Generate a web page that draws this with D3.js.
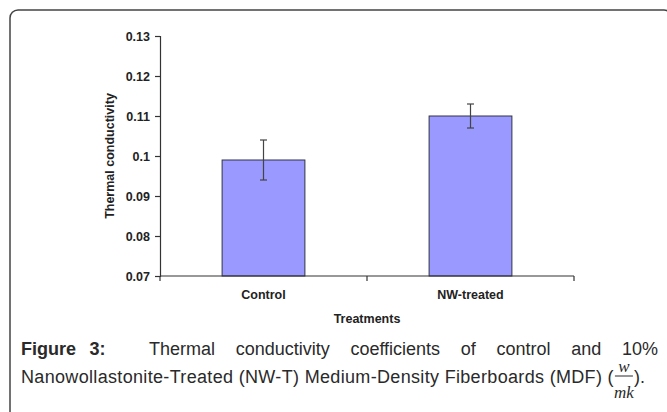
<!DOCTYPE html>
<html>
<head>
<meta charset="utf-8">
<script src="https://cdn.jsdelivr.net/npm/d3@7"></script>
<style>
  html, body { margin: 0; padding: 0; background: #fff; }
  svg { display: block; }
</style>
</head>
<body>
<svg id="chart" width="667" height="412"></svg>
<script>
// ---- data ----
const categories = ["Control", "NW-treated"];
const values = [0.099, 0.110];
const errors = [0.005, 0.003];
const yTicks = [0.07, 0.08, 0.09, 0.1, 0.11, 0.12, 0.13];
const yTickLabels = ["0.07", "0.08", "0.09", "0.1", "0.11", "0.12", "0.13"];
const yLabel = "Thermal conductivity";
const xLabel = "Treatments";

// ---- layout ----
const W = 667, H = 412;
const plot = { left: 160, right: 574, top: 36, bottom: 276 };
const svg = d3.select("#chart");

// frame with rounded corner
svg.append("rect")
  .attr("x", 10).attr("y", 10)
  .attr("width", 662).attr("height", 420)
  .attr("rx", 8).attr("ry", 8)
  .attr("fill", "none").attr("stroke", "#444").attr("stroke-width", 1.5);

const y = d3.scaleLinear().domain([0.07, 0.13]).range([plot.bottom, plot.top]);
const x = d3.scaleBand().domain(categories).range([plot.left, plot.right])
  .paddingInner(0.6).paddingOuter(0.3);
const xCat = d3.scaleBand().domain(categories).range([plot.left, plot.right]).padding(0);

const axisFont = "'Liberation Sans', Arial, sans-serif";
const axisColor = "#333";
const axisSize = 12.5;

// bars
svg.append("g").selectAll("rect").data(categories).join("rect")
  .attr("x", d => x(d))
  .attr("y", (d, i) => y(values[i]))
  .attr("width", x.bandwidth())
  .attr("height", (d, i) => y(0.07) - y(values[i]))
  .attr("fill", "#9999ff")
  .attr("stroke", "#333344").attr("stroke-width", 1);

// error bars
const eg = svg.append("g").attr("stroke", "#444").attr("stroke-width", 1.2);
categories.forEach((c, i) => {
  const cx = x(c) + x.bandwidth() / 2;
  const y1 = y(values[i] + errors[i]);
  const y2 = y(values[i] - errors[i]);
  eg.append("line").attr("x1", cx).attr("x2", cx).attr("y1", y1).attr("y2", y2);
  eg.append("line").attr("x1", cx - 3.5).attr("x2", cx + 3.5).attr("y1", y1).attr("y2", y1);
  eg.append("line").attr("x1", cx - 3.5).attr("x2", cx + 3.5).attr("y1", y2).attr("y2", y2);
});

// y axis
const yAxis = d3.axisLeft(y).tickValues(yTicks)
  .tickFormat((d, i) => yTickLabels[i]).tickSize(5).tickPadding(5);
const gy = svg.append("g").attr("transform", `translate(${plot.left},0)`).call(yAxis);
gy.select(".domain").attr("stroke", axisColor).attr("stroke-width", 1.2);
gy.selectAll(".tick line").attr("stroke", axisColor).attr("stroke-width", 1.2);
gy.selectAll(".tick text").attr("font-family", axisFont).attr("font-size", axisSize)
  .attr("font-weight", "bold").attr("fill", "#222");

// x axis: ticks at category boundaries
const bounds = categories.map(c => xCat(c)).concat([xCat(categories[categories.length - 1]) + xCat.bandwidth()]);
const gx = svg.append("g").attr("stroke", axisColor).attr("stroke-width", 1.2);
gx.append("line").attr("x1", plot.left).attr("x2", plot.right)
  .attr("y1", plot.bottom).attr("y2", plot.bottom);
bounds.forEach(b => {
  gx.append("line").attr("x1", b).attr("x2", b).attr("y1", plot.bottom).attr("y2", plot.bottom + 5);
});
svg.append("g").selectAll("text").data(categories).join("text")
  .attr("x", d => xCat(d) + xCat.bandwidth() / 2)
  .attr("y", 299)
  .attr("text-anchor", "middle")
  .attr("font-family", axisFont).attr("font-size", axisSize).attr("font-weight", "bold")
  .attr("fill", "#222")
  .text(d => d);

// axis titles
svg.append("text")
  .attr("x", (plot.left + plot.right) / 2).attr("y", 323)
  .attr("text-anchor", "middle")
  .attr("font-family", axisFont).attr("font-size", axisSize).attr("font-weight", "bold")
  .attr("fill", "#222").text(xLabel);
svg.append("text")
  .attr("transform", `translate(114,${(plot.top + plot.bottom) / 2}) rotate(-90)`)
  .attr("text-anchor", "middle")
  .attr("font-family", axisFont).attr("font-size", axisSize).attr("font-weight", "bold")
  .attr("fill", "#222").text(yLabel);

// ---- caption ----
const capFont = "'Liberation Sans', Arial, sans-serif";
const capSize = 18;
const capColor = "#2a2a2a";
const figWords = ["Figure", "3:"];
const line1Words = ["Thermal", "conductivity", "coefficients", "of", "control", "and", "10%"];
const line2Text = "Nanowollastonite-Treated (NW-T) Medium-Density Fiberboards (MDF) (";
const capLeft = 21, capRight = 658;
const base1 = 355, base2 = 383;

// line 1 (justified, extra space after "Figure 3:")
const l1 = svg.append("g").attr("font-family", capFont).attr("font-size", capSize).attr("fill", capColor);
const allWords = figWords.map(w => ({ w, bold: true })).concat(line1Words.map(w => ({ w, bold: false })));
const nodes = allWords.map(o => {
  const t = l1.append("text").attr("y", base1).attr("font-weight", o.bold ? "bold" : "normal").text(o.w);
  return { t, len: t.node().getComputedTextLength() };
});
const weights = nodes.slice(1).map((n, i) => i === 0 ? 0.65 : (i === 1 ? 2.1 : 1));
const totalLen = d3.sum(nodes, n => n.len);
const g = (capRight - capLeft - totalLen) / d3.sum(weights);
let cx = capLeft;
nodes.forEach((n, i) => { n.t.attr("x", cx); cx += n.len + (i < weights.length ? weights[i] * g : 0); });

// line 2
const l2 = svg.append("text").attr("x", capLeft).attr("y", base2)
  .attr("font-family", capFont).attr("font-size", capSize).attr("fill", capColor)
  .attr("letter-spacing", 0.33)
  .text(line2Text);
const l2end = capLeft + l2.node().getComputedTextLength();
const fracW = 18;
const fx = l2end + 1;
const serif = "'Liberation Serif', 'Times New Roman', serif";
svg.append("line").attr("x1", fx).attr("x2", fx + fracW).attr("y1", base2 - 7).attr("y2", base2 - 7)
  .attr("stroke", capColor).attr("stroke-width", 1);
svg.append("text").attr("x", fx + fracW / 2).attr("y", base2 - 11).attr("text-anchor", "middle")
  .attr("font-family", serif).attr("font-style", "italic")
  .attr("font-size", 17).attr("fill", capColor).text("w");
svg.append("text").attr("x", fx + fracW / 2).attr("y", base2 + 15).attr("text-anchor", "middle")
  .attr("font-family", serif).attr("font-style", "italic")
  .attr("font-size", 17).attr("fill", capColor).text("mk");
svg.append("text").attr("x", fx + fracW + 1).attr("y", base2)
  .attr("font-family", capFont).attr("font-size", capSize).attr("fill", capColor).text(").");
</script>
</body>
</html>
